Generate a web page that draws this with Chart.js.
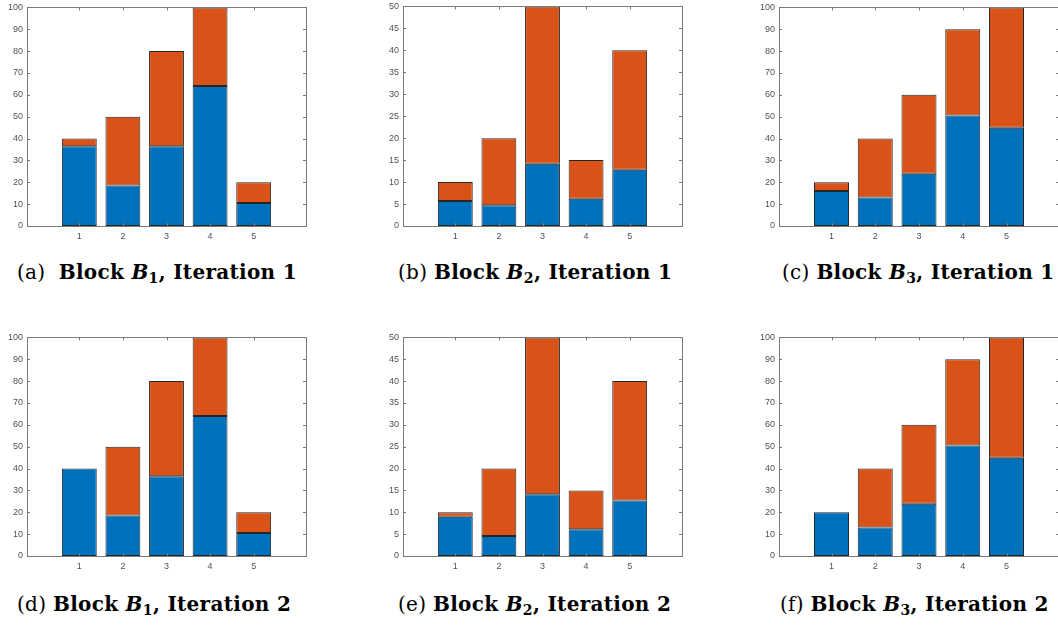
<!DOCTYPE html>
<html>
<head>
<meta charset="utf-8">
<script src="https://cdn.jsdelivr.net/npm/chart.js@4.4.1/dist/chart.umd.min.js"></script>
<style>
  body { margin: 0; background: #fff; width: 1058px; height: 626px; overflow: hidden; position: relative; }
  canvas { position: absolute; }
  .cap { position: absolute; font-family: 'DejaVu Serif', serif; font-size: 20px; line-height: 22px; letter-spacing: 0.3px; color: #000; white-space: pre; }
  .cap sub { font-size: 0.7em; vertical-align: baseline; position: relative; top: 0.3em; }
</style>
</head>
<body>
<script>
// bar positions along x, MATLAB style 1..5
const categories = [1, 2, 3, 4, 5];

// Block B1
const blueA = [36.5, 18.5, 36.5, 64, 10.5];
const orangeA = [3.5, 31.5, 43.5, 36, 9.5];
const blueD = [40, 18.5, 36.5, 64, 10.5];
const orangeD = [0, 31.5, 43.5, 36, 9.5];

// Block B2
const blueB = [5.7, 4.7, 14.2, 6.2, 12.8];
const orangeB = [4.3, 15.3, 35.8, 8.8, 27.2];
const blueE = [9, 4.6, 14.1, 6.1, 12.7];
const orangeE = [1, 15.4, 35.9, 8.9, 27.3];

// Block B3
const blueC = [16, 13, 23.9, 50.5, 45];
const orangeC = [4, 27, 36.1, 39.5, 55];
const blueF = [20, 13, 23.9, 50.5, 45];
const orangeF = [0, 27, 36.1, 39.5, 55];

const BLUE = '#0072BD';
const ORANGE = '#D95319';
const AXIS = '#7a7a7a';
const tickFont = { family: 'Liberation Sans, Arial, sans-serif', size: 9 };

// box around the plot area with inward ticks on all four sides
const boxPlugin = {
  id: 'matlabBox',
  afterDraw(chart) {
    const { ctx, chartArea: a, scales } = chart;
    ctx.save();
    ctx.strokeStyle = AXIS;
    ctx.lineWidth = 1;
    ctx.strokeRect(Math.round(a.left) + 0.5, Math.round(a.top) + 0.5,
      Math.round(a.right - a.left), Math.round(a.bottom - a.top));
    ctx.beginPath();
    scales.y.ticks.forEach(t => {
      const py = Math.round(scales.y.getPixelForValue(t.value)) + 0.5;
      ctx.moveTo(a.left, py); ctx.lineTo(a.left + 3, py);
      ctx.moveTo(a.right, py); ctx.lineTo(a.right - 3, py);
    });
    scales.x.ticks.forEach(t => {
      const px = Math.round(scales.x.getPixelForValue(t.value)) + 0.5;
      ctx.moveTo(px, a.bottom); ctx.lineTo(px, a.bottom - 3);
      ctx.moveTo(px, a.top); ctx.lineTo(px, a.top + 3);
    });
    ctx.stroke();
    ctx.restore();
  }
};

function makePanel(box, blue, orange, yMax, yStep) {
  const padL = 40, padT = 8, padR = 10, padB = 26;
  const canvas = document.createElement('canvas');
  canvas.width = box.w + padL + padR;
  canvas.height = box.h + padT + padB;
  canvas.style.left = (box.x - padL) + 'px';
  canvas.style.top = (box.y - padT) + 'px';
  document.body.appendChild(canvas);

  const barStyle = { borderColor: '#262626', borderWidth: 1, borderSkipped: false };

  new Chart(canvas, {
    type: 'bar',
    data: {
      datasets: [
        Object.assign({ data: categories.map((c, i) => ({ x: c, y: blue[i] })), backgroundColor: BLUE }, barStyle),
        Object.assign({ data: categories.map((c, i) => ({ x: c, y: orange[i] })), backgroundColor: ORANGE }, barStyle)
      ]
    },
    options: {
      responsive: false,
      animation: false,
      layout: { padding: { top: padT, right: padR, left: 0, bottom: 0 } },
      plugins: { legend: { display: false }, tooltip: { enabled: false } },
      datasets: { bar: { barPercentage: 0.8, categoryPercentage: 1 } },
      scales: {
        x: {
          type: 'linear', min: -0.2, max: 6.2, stacked: true, offset: false,
          grid: { display: false, drawTicks: false, offset: false },
          border: { display: false },
          ticks: { font: tickFont, color: '#505050', padding: 5, maxRotation: 0, autoSkip: false },
          afterBuildTicks: s => { s.ticks = categories.map(v => ({ value: v })); },
          afterFit: s => { s.height = padB; }
        },
        y: {
          min: 0, max: yMax, stacked: true,
          grid: { display: false, drawTicks: false },
          border: { display: false },
          ticks: { stepSize: yStep, font: tickFont, color: '#505050', padding: 4 },
          afterFit: s => { s.width = padL; }
        }
      }
    },
    plugins: [boxPlugin]
  });
}

makePanel({ x: 27, y: 6, w: 279, h: 220 }, blueA, orangeA, 100, 10);
makePanel({ x: 403, y: 5, w: 279, h: 221 }, blueB, orangeB, 50, 5);
makePanel({ x: 779, y: 6, w: 280, h: 220 }, blueC, orangeC, 100, 10);
makePanel({ x: 27, y: 336, w: 279, h: 220 }, blueD, orangeD, 100, 10);
makePanel({ x: 403, y: 336, w: 279, h: 220 }, blueE, orangeE, 50, 5);
makePanel({ x: 779, y: 336, w: 280, h: 220 }, blueF, orangeF, 100, 10);

// sub-captions
const captions = [
  { x: 17, y: 261, tag: '(a)  ', n: 1, it: 1 },
  { x: 398, y: 261, tag: '(b) ', n: 2, it: 1 },
  { x: 782, y: 261, tag: '(c) ', n: 3, it: 1 },
  { x: 17, y: 593, tag: '(d) ', n: 1, it: 2 },
  { x: 398, y: 593, tag: '(e) ', n: 2, it: 2 },
  { x: 780, y: 593, tag: '(f) ', n: 3, it: 2 }
];
captions.forEach(c => {
  const d = document.createElement('div');
  d.className = 'cap';
  d.style.left = c.x + 'px';
  d.style.top = c.y + 'px';
  d.innerHTML = c.tag + '<b>Block <i>B</i><sub>' + c.n + '</sub>, Iteration ' + c.it + '</b>';
  document.body.appendChild(d);
});
</script>
</body>
</html>
